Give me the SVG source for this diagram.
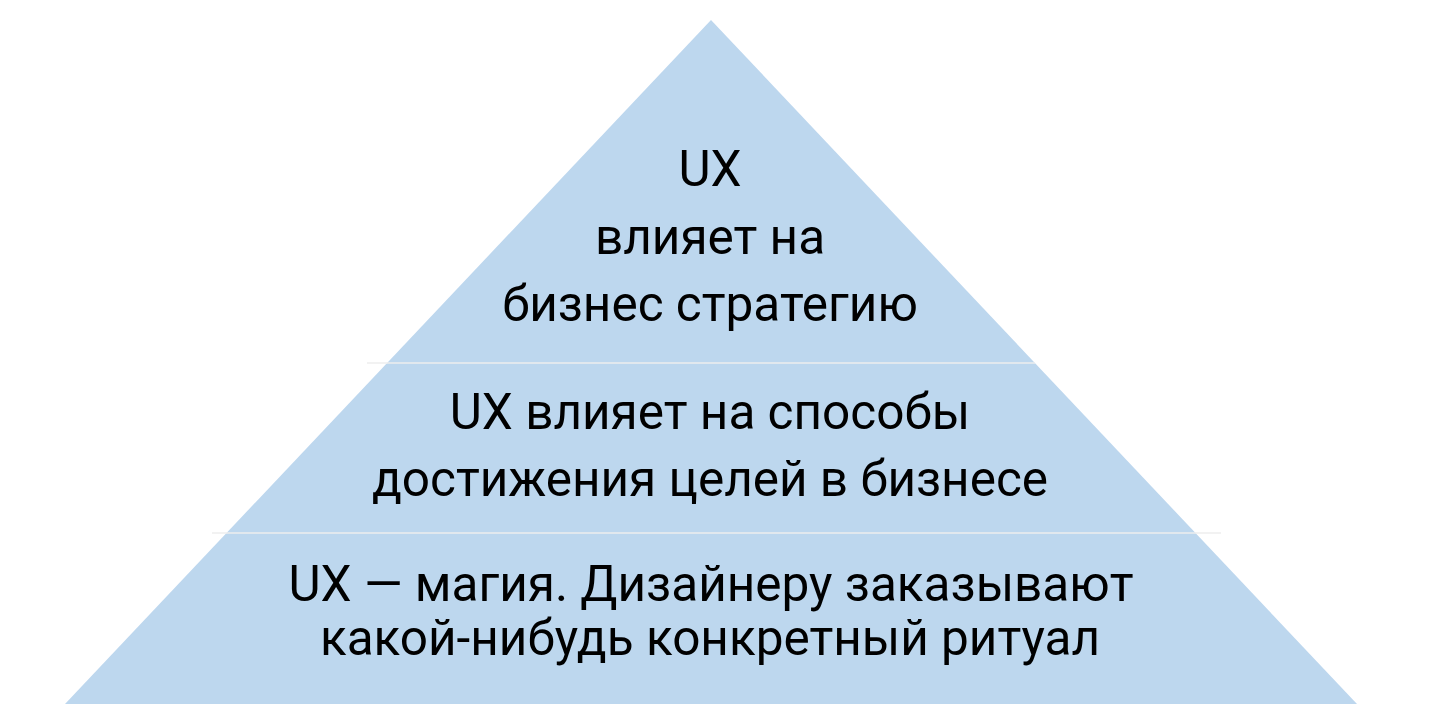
<svg xmlns="http://www.w3.org/2000/svg" width="1440" height="721" viewBox="0 0 1440 721">
<style>
.t{font-family:Roboto,"Noto Sans","Liberation Sans",sans-serif;font-size:49.5px;fill:#000;text-anchor:middle}
.sep{stroke:#eeeeee;stroke-width:1.5}
</style>
<rect width="1440" height="721" fill="#ffffff"/>
<g id="pyramid">
<polygon points="711,20 1357,704 65,704" fill="#bdd7ee"/>
</g>
<g id="connectors">
<line class="sep" x1="367" y1="363" x2="1035" y2="363"/>
<line class="sep" x1="212" y1="533" x2="1221" y2="533"/>
</g>
<g id="top">
<text class="t" x="710" y="186">UX</text>
<text class="t" x="710" y="254">влияет на</text>
<text class="t" x="710" y="321">бизнес стратегию</text>
</g>
<g id="middle">
<text class="t" x="710" y="429">UX влияет на способы</text>
<text class="t" x="710" y="496">достижения целей в бизнесе</text>
</g>
<g id="bottom">
<text class="t" x="711" y="601">UX — магия. Дизайнеру заказывают</text>
<text class="t" x="710" y="655">какой-нибудь конкретный ритуал</text>
</g>
</svg>
